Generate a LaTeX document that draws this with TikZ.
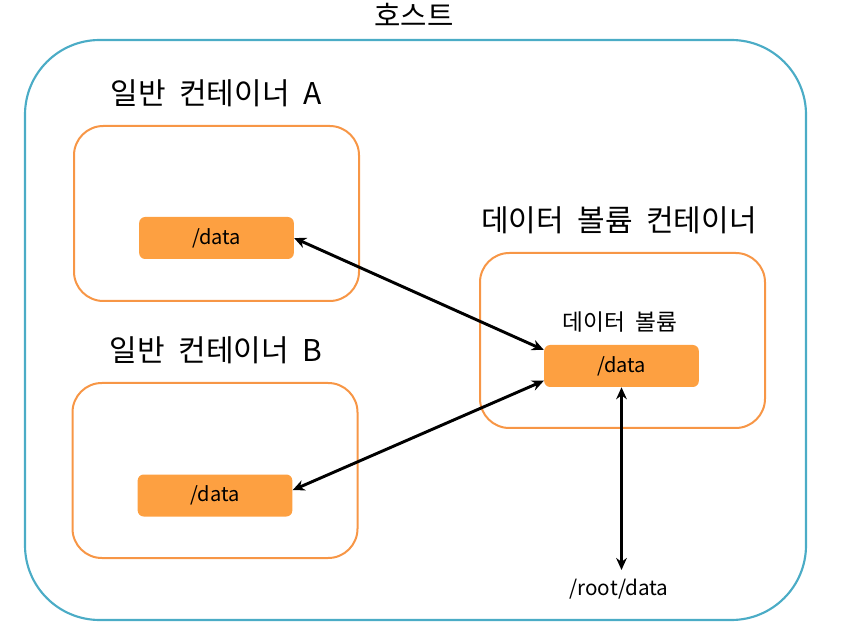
\documentclass[tikz,border=0pt]{standalone}
\usepackage{fontspec}
\setmainfont{Noto Sans CJK KR}
\usetikzlibrary{arrows.meta}
\definecolor{hostblue}{HTML}{4BACC6}
\definecolor{ctorange}{HTML}{F79646}
\definecolor{boxorange}{HTML}{FDA041}
\newcommand\wsp{\hspace{0.45em}}
\begin{document}
\begin{tikzpicture}[x=0.75pt,y=-0.75pt,
  hostbox/.style={draw=hostblue,line width=1.6pt,rounded corners=56pt,minimum width=585.75pt,minimum height=435pt,inner sep=0pt},
  ctbox/.style={draw=ctorange,line width=1.5pt,rounded corners=22pt,minimum width=213.75pt,minimum height=131.25pt,inner sep=0pt},
  databox/.style={fill=boxorange,rounded corners=4.5pt,minimum width=116pt,minimum height=31.5pt,inner sep=0pt,font=\fontsize{15pt}{17pt}\selectfont},
  biglabel/.style={font=\fontsize{22.5pt}{26pt}\selectfont,inner sep=0pt},
  titlelabel/.style={font=\fontsize{21.5pt}{24pt}\selectfont,inner sep=0pt},
  smalllabel/.style={font=\fontsize{15.5pt}{18pt}\selectfont,inner sep=0pt},
  vollabel/.style={font=\fontsize{17pt}{20pt}\selectfont,inner sep=0pt},
  link/.style={line width=2.2pt,{Stealth[length=9pt,width=8pt]}-{Stealth[length=9pt,width=8pt]}}]
\useasboundingbox (0,0) rectangle (849,630);
\node[hostbox] (host) at (415.5,330) {};
\node[titlelabel] (hostlbl) at (414,15) {호스트};
\node[ctbox] (ctA) at (216.5,213.5) {};
\node[biglabel] (lblA) at (216,93) {일반\wsp 컨테이너\wsp A};
\node[ctbox] (ctB) at (215,470.5) {};
\node[biglabel] (lblB) at (216,350) {일반\wsp 컨테이너\wsp B};
\node[ctbox] (ctV) at (622.5,340.5) {};
\node[biglabel] (lblV) at (619,220) {데이터\wsp 볼륨\wsp 컨테이너};
\node[vollabel] (lblVol) at (620,322) {데이터\wsp 볼륨};
\node[databox] (dataA) at (216.5,238) {/data};
\node[databox] (dataB) at (215,495.5) {/data};
\node[databox] (dataV) at (621.5,366) {/data};
\node[smalllabel] (root) at (619,589) {/root/data};
\coordinate (rootend) at (621.5,570);
\draw[link] (dataA.east) -- ([yshift=12pt]dataV.west);
\draw[link] ([yshift=4pt]dataB.east) -- ([yshift=-11pt]dataV.west);
\draw[link] (dataV.south) -- (rootend);
\end{tikzpicture}
\end{document}
